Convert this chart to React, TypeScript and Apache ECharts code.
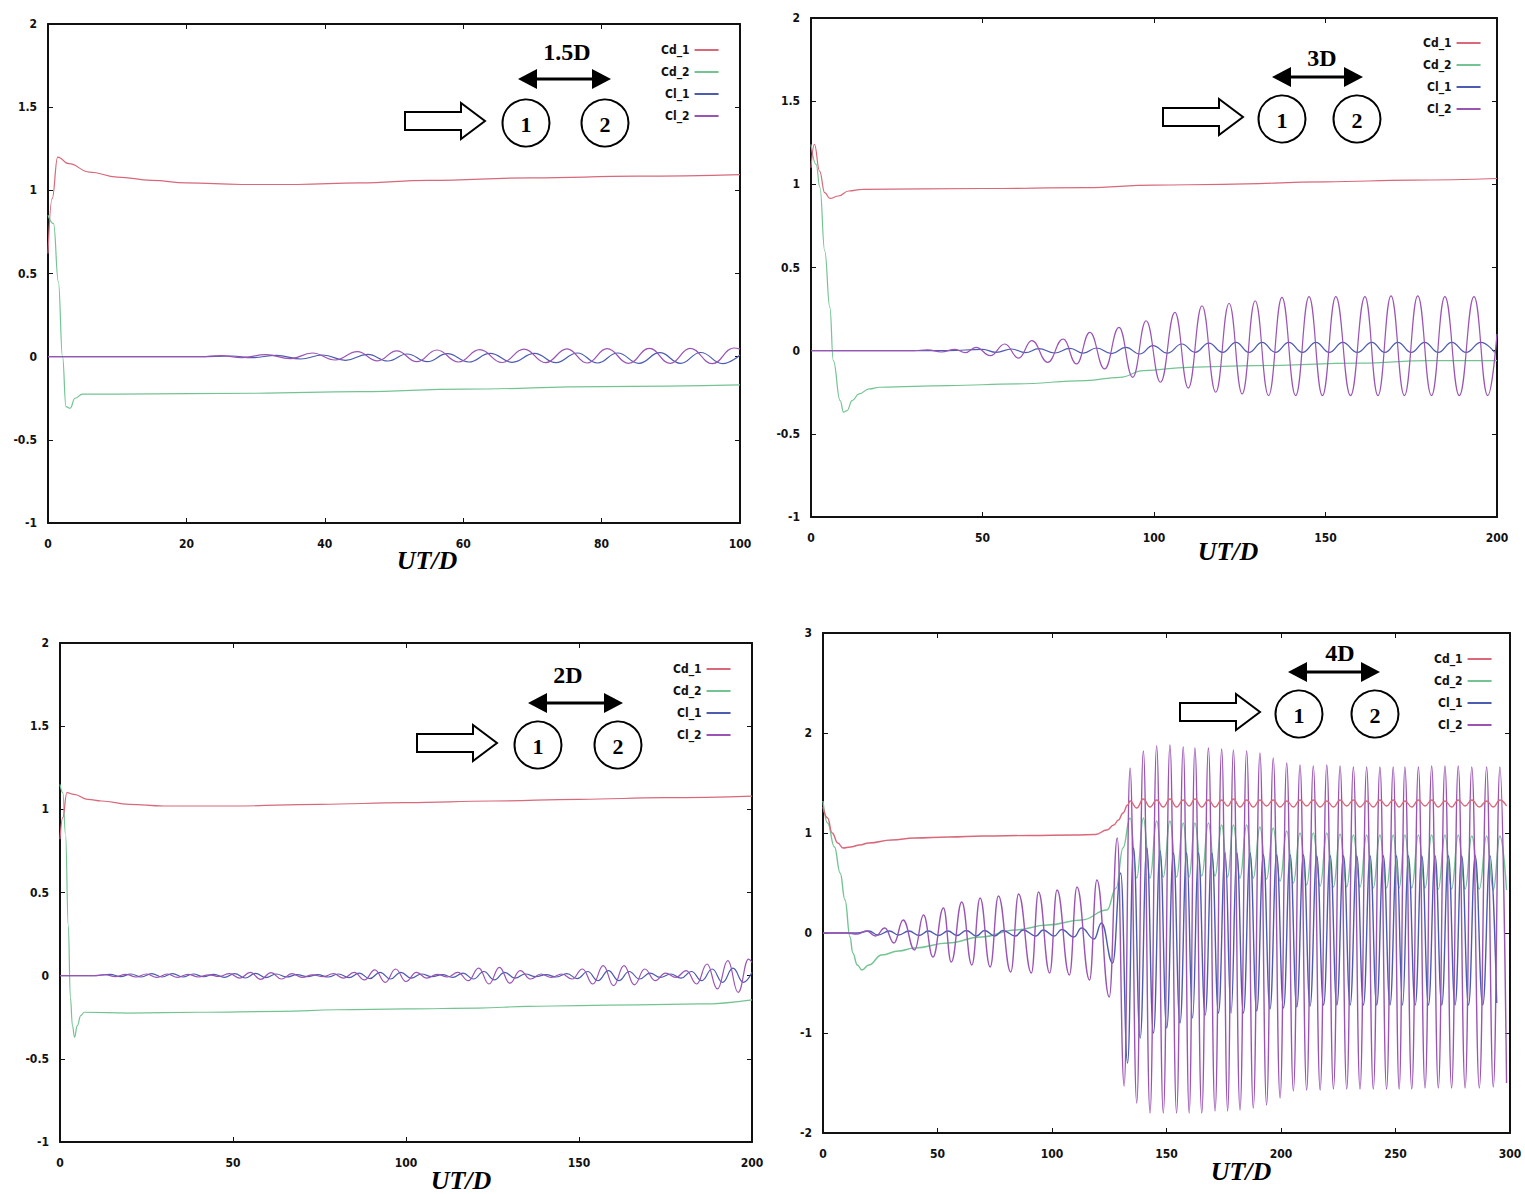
import React, { useEffect, useRef } from "react";
import * as echarts from "echarts";

type Pt = [number, number];

// ---------- labels / axes ----------
const SERIES_NAMES = ["Cd_1", "Cd_2", "Cl_1", "Cl_2"];
const PANEL_TITLES = ["1.5D", "3D", "2D", "4D"];
const X_TITLE = "UT/D";
const X_MAX = [100, 200, 200, 300];
const X_STEP = [20, 50, 50, 50];
const Y_MIN = [-1, -1, -1, -2];
const Y_MAX = [2, 2, 2, 3];
const Y_STEP = [0.5, 0.5, 0.5, 1];

// ---------- panel 1 : 1.5D ----------
const P1_CD1: Pt[] = [[0,0.62],[0.6,0.95],[1.4,1.2],[3,1.16],[6,1.11],[10,1.08],[15,1.06],[20,1.045],[28,1.035],[36,1.035],[45,1.045],[55,1.06],[70,1.075],[85,1.085],[100,1.095]];
const P1_CD2: Pt[] = [[0,0.85],[0.8,0.8],[1.5,0.45],[2.1,0.0],[2.6,-0.3],[3.2,-0.31],[3.9,-0.25],[5,-0.225],[10,-0.225],[30,-0.22],[45,-0.21],[60,-0.195],[80,-0.18],[100,-0.17]];
const P1_CL1: Pt[] = [[0,0],[22,0],[26.5,0.004],[29.5,-0.006],[33,0.008],[36.5,-0.014],[39.7,0.01],[43,-0.022],[46.2,0.014],[49.1,-0.026],[51.9,0.016],[54.8,-0.03],[57.7,0.018],[60.8,-0.032],[63.9,0.02],[67.1,-0.034],[70.3,0.02],[73.4,-0.036],[76.5,0.022],[79.4,-0.038],[82.3,0.022],[85.4,-0.04],[88.4,0.024],[91.4,-0.04],[94.3,0.025],[97.5,-0.042],[100,0.01]];
const P1_CL2: Pt[] = [[0,0],[22,0],[25,0.006],[28,-0.006],[31.5,0.012],[35,-0.012],[38.2,0.022],[41.5,-0.02],[44.7,0.03],[47.6,-0.025],[50.4,0.035],[53.3,-0.03],[56.2,0.04],[59.3,-0.032],[62.4,0.042],[65.6,-0.035],[68.8,0.045],[71.9,-0.036],[75,0.047],[77.9,-0.038],[80.8,0.048],[83.9,-0.04],[86.9,0.05],[89.9,-0.04],[92.8,0.05],[96,-0.042],[99.1,0.052],[100,0.045]];

// ---------- panel 2 : 3D ----------
const P2_CD1: Pt[] = [[0,1.1],[1,1.24],[2.5,1.08],[4,0.95],[5.5,0.915],[8,0.93],[11,0.96],[15,0.97],[50,0.975],[80,0.98],[100,0.995],[120,1.0],[150,1.015],[175,1.025],[200,1.035]];
const P2_CD2: Pt[] = [[0,1.24],[1.5,1.12],[2.6,0.98],[4,0.6],[5.5,0.26],[6.5,-0.06],[8.5,-0.3],[9.5,-0.37],[10.5,-0.36],[12,-0.3],[14,-0.26],[17,-0.23],[20,-0.22],[40,-0.21],[60,-0.2],[80,-0.18],[90,-0.16],[97,-0.12],[110,-0.1],[130,-0.09],[160,-0.075],[180,-0.06],[200,-0.06]];
const P2_CL1: Pt[] = [[0,0],[40,0],[50,0.008],[54,-0.01],[58.5,0.01],[62.5,-0.012],[66.4,0.012],[71,-0.014],[75.5,0.014],[79.4,-0.015],[83.3,0.016],[87.6,-0.018],[91.8,0.02],[95.8,-0.02],[99.7,0.03],[103.9,-0.015],[108.1,0.04],[112,-0.01],[116,0.045],[120,-0.01],[123.9,0.05],[127.7,-0.01],[131.5,0.05],[135.4,-0.01],[139.3,0.05],[143.3,-0.01],[147.2,0.05],[151.1,-0.01],[155,0.05],[159.3,-0.01],[163.5,0.05],[167.3,-0.01],[171.1,0.05],[175,-0.01],[178.9,0.05],[182.9,-0.01],[186.8,0.05],[191,-0.01],[195.3,0.05],[199.3,-0.01]];
const P2_CL2: Pt[] = [[0,0],[30,0],[34,0.005],[38,-0.008],[42,0.008],[45,-0.012],[48.1,0.02],[52.3,-0.03],[56.5,0.04],[60.5,-0.045],[64.4,0.06],[69,-0.07],[73.5,0.07],[77.4,-0.08],[81.3,0.11],[85.6,-0.11],[89.8,0.14],[93.8,-0.16],[97.7,0.18],[101.9,-0.19],[106.1,0.23],[110,-0.225],[114,0.27],[118,-0.25],[121.9,0.285],[125.7,-0.26],[129.5,0.3],[133.4,-0.27],[137.3,0.32],[141.3,-0.27],[145.2,0.325],[149.1,-0.27],[153,0.325],[157.3,-0.27],[161.5,0.325],[165.3,-0.27],[169.1,0.33],[173,-0.27],[176.9,0.33],[180.9,-0.27],[184.8,0.325],[189,-0.27],[193.3,0.325],[197.3,-0.27],[200,0.1]];

// ---------- panel 3 : 2D ----------
const P3_CD1: Pt[] = [[0,0.82],[0.8,0.95],[2,1.1],[4,1.09],[8,1.06],[12,1.05],[20,1.03],[30,1.02],[50,1.02],[75,1.03],[100,1.04],[125,1.05],[150,1.06],[175,1.07],[200,1.08]];
const P3_CD2: Pt[] = [[0,1.15],[0.8,1.1],[1.6,0.85],[2.4,0.3],[3,-0.13],[3.6,-0.3],[4.2,-0.37],[5,-0.3],[6,-0.24],[7,-0.22],[20,-0.225],[40,-0.22],[64,-0.215],[80,-0.205],[100,-0.2],[121,-0.195],[135,-0.185],[150,-0.18],[167,-0.175],[185,-0.17],[200,-0.145]];
const P3_CL1: Pt[] = [[0,0],[10,0],[14.5,0.008],[17.5,-0.006],[20.5,0.01],[23.5,-0.008],[26.5,0.012],[29.5,-0.008],[32.5,0.012],[35.5,-0.008],[38.5,0.01],[41.5,-0.006],[44.5,0.008],[47.5,-0.01],[50.5,0.012],[53.5,-0.014],[56.5,0.014],[59.5,-0.012],[62.5,0.01],[65.5,-0.008],[68.5,0.006],[71.5,-0.006],[74.5,0.006],[77.5,-0.008],[80.5,0.01],[83.5,-0.012],[86.5,0.015],[89.5,-0.018],[92.5,0.02],[95.5,-0.02],[98.5,0.02],[101.5,-0.015],[104.5,0.01],[107.5,-0.006],[110.5,0.006],[113.5,-0.01],[116.5,0.015],[119.5,-0.02],[122.5,0.025],[125.5,-0.025],[128.5,0.02],[131.5,-0.015],[134.5,0.01],[137.5,-0.006],[140.5,0.006],[143.5,-0.008],[146.5,0.012],[149.5,-0.018],[152.5,0.025],[155.5,-0.03],[158.5,0.03],[161.5,-0.03],[164.5,0.025],[167.5,-0.02],[170.5,0.015],[173.5,-0.01],[176.5,0.01],[179.5,-0.015],[182.5,0.025],[185.5,-0.03],[188.5,0.04],[191.5,-0.04],[194.5,0.045],[197.5,-0.04],[200,0.02]];
const P3_CL2: Pt[] = [[0,0],[10,0],[13,0.006],[16,-0.006],[19,0.008],[22,-0.008],[25,0.01],[28,-0.01],[31,0.01],[34,-0.01],[37,0.008],[40,-0.008],[43,0.005],[46,-0.005],[49,0.012],[52,-0.015],[55,0.02],[58,-0.022],[61,0.018],[64,-0.02],[67,0.012],[70,-0.01],[73,0.005],[76,-0.006],[79,0.012],[82,-0.015],[85,0.02],[88,-0.025],[91,0.035],[94,-0.04],[97,0.04],[100,-0.035],[103,0.02],[106,-0.015],[109,0.008],[112,-0.008],[115,0.02],[118,-0.03],[121,0.045],[124,-0.05],[127,0.05],[130,-0.045],[133,0.03],[136,-0.02],[139,0.01],[142,-0.01],[145,0.01],[148,-0.02],[151,0.04],[154,-0.05],[157,0.06],[160,-0.06],[163,0.06],[166,-0.055],[169,0.04],[172,-0.03],[175,0.015],[178,-0.01],[181,0.03],[184,-0.05],[187,0.07],[190,-0.08],[193,0.09],[196,-0.1],[199,0.1],[200,0.08]];

// ---------- panel 4 : 4D ----------
const P4_CD1_EARLY: Pt[] = [[0,1.26],[2,1.15],[4,1.0],[6.5,0.9],[8.7,0.85],[12,0.86],[16,0.88],[20,0.9],[30,0.93],[40,0.95],[55,0.96],[70,0.97],[90,0.975],[110,0.98],[119,0.985],[124,1.03],[127,1.08],[129,1.13],[131,1.2],[133,1.28]];
const P4_CD2_EARLY: Pt[] = [[0,1.32],[2,1.1],[5,0.86],[7.5,0.6],[9.6,0.33],[11.8,-0.04],[13,-0.2],[15,-0.32],[17,-0.37],[20,-0.32],[25.6,-0.22],[33,-0.18],[40,-0.15],[54.6,-0.1],[69,-0.04],[84,0.03],[98,0.08],[113,0.13],[124,0.23],[128,0.45],[131,0.85]];
const P4_CL1_EARLY: Pt[] = [[0,0],[15,0],[20,0.02],[24,-0.02],[29,0.02],[33,-0.02],[37.5,0.02],[42,-0.025],[46,0.02],[50.5,-0.025],[54.6,0.02],[58.5,-0.025],[62.6,0.025],[67,-0.03],[70.6,0.025],[75,-0.03],[78.6,0.025],[84,-0.03],[87.4,0.03],[93,-0.03],[96.1,0.03],[101,-0.03],[104.2,0.035],[109.6,-0.04],[112.9,0.05],[118.4,-0.06],[121.6,0.1],[126.5,-0.3],[130,0.6],[133,-1.3]];
const P4_CL2_EARLY: Pt[] = [[0,0],[10,0],[15,-0.01],[19,0.02],[23,-0.03],[27,0.05],[31,-0.1],[35,0.13],[40,-0.17],[43.9,0.18],[48,-0.24],[52.6,0.25],[56,-0.29],[60.6,0.31],[65,-0.32],[68.6,0.35],[73,-0.34],[76.6,0.37],[82,-0.39],[85.4,0.39],[91,-0.4],[94.1,0.41],[99,-0.4],[102.2,0.43],[107.6,-0.42],[110.9,0.46],[116.4,-0.47],[119.6,0.53],[125,-0.64],[128.5,0.95],[131.5,-1.53]];

// extremes of the saturated shedding regime (UT/D)
const P4_T: number[] = [134.1,137,139.9,142.8,145.7,148.6,151.5,154.4,157.3,159.9,162.4,165.4,168.3,171.2,174.1,176.7,179.2,182.1,185,187.9,190.8,193.7,196.6,199.6,202.5,205.4,208.3,211.2,214.1,217.1,220,222.9,225.8,228.7,231.6,234.5,237.4,240.3,243.2,246.1,249,251.6,254.1,257.1,260,262.9,265.8,268.7,271.6,274.5,277.4,280.4,283.3,286.6,289.8,292.7,295.6,298.5];
const P4_CL2_V: number[] = [1.65,-1.7,1.82,-1.8,1.87,-1.8,1.88,-1.8,1.86,-1.8,1.85,-1.8,1.85,-1.78,1.84,-1.78,1.83,-1.77,1.82,-1.75,1.8,-1.72,1.75,-1.65,1.7,-1.58,1.68,-1.57,1.67,-1.57,1.68,-1.56,1.67,-1.56,1.66,-1.56,1.66,-1.56,1.66,-1.56,1.66,-1.56,1.66,-1.56,1.66,-1.55,1.67,-1.55,1.67,-1.55,1.67,-1.55,1.66,-1.55,1.66,-1.54,1.66,-1.5];
const P4_CD1_V: number[] = [1.32,1.25,1.34,1.26,1.33,1.26,1.34,1.26,1.33,1.27,1.34,1.26,1.33,1.26,1.33,1.27,1.34,1.26,1.33,1.26,1.33,1.27,1.33,1.26,1.32,1.26,1.33,1.27,1.33,1.26,1.32,1.26,1.33,1.27,1.33,1.26,1.32,1.26,1.33,1.27,1.33,1.26,1.32,1.26,1.33,1.27,1.33,1.26,1.32,1.26,1.33,1.27,1.33,1.26,1.32,1.26,1.33,1.27];
const P4_CD2_V: number[] = [1.15,0.55,1.15,0.55,1.12,0.56,1.12,0.56,1.1,0.56,1.1,0.57,1.1,0.57,1.08,0.56,1.08,0.55,1.08,0.55,1.06,0.54,1.05,0.52,1.02,0.5,1.0,0.48,1.0,0.47,1.0,0.46,0.99,0.46,0.98,0.46,0.98,0.45,0.98,0.45,0.98,0.45,0.98,0.45,0.98,0.45,0.98,0.44,0.98,0.44,0.98,0.44,0.97,0.44,0.97,0.43,0.97,0.43];
const P4_T_CL1: number[] = [135.6,138.5,141.4,144.3,147.2,150.1,153,155.9,158.8,161.4,163.9,166.9,169.8,172.7,175.6,178.2,180.7,183.6,186.5,189.4,192.3,195.2,198.1,201.1,204,206.9,209.8,212.7,215.6,218.6,221.5,224.4,227.3,230.2,233.1,236,238.9,241.8,244.7,247.6,250.5,253.1,255.6,258.6,261.5,264.4,267.3,270.2,273.1,276,278.9,281.9,284.8,288.1,291.3,294.2,297.1,300];
const P4_CL1_V: number[] = [0.85,-1.05,0.85,-1.0,0.82,-0.95,0.8,-0.9,0.8,-0.85,0.8,-0.82,0.8,-0.8,0.8,-0.8,0.8,-0.8,0.8,-0.78,0.78,-0.76,0.78,-0.75,0.78,-0.74,0.78,-0.73,0.77,-0.72,0.77,-0.72,0.77,-0.72,0.77,-0.72,0.77,-0.72,0.77,-0.72,0.77,-0.72,0.77,-0.72,0.77,-0.72,0.77,-0.72,0.77,-0.72,0.77,-0.72,0.77,-0.72,0.77,-0.7];

// ---------- styling / layout (not data) ----------
const COLORS: Record<string, string> = { Cd_1: "#d8687a", Cd_2: "#74c493", Cl_1: "#4c5cb0", Cl_2: "#9a54b4" };
const DRAW_ORDER = ["Cd_2", "Cl_1", "Cl_2", "Cd_1"];
const GRIDS = [
  { left: 48, top: 24, width: 692, height: 499 },
  { left: 811, top: 18, width: 686, height: 499 },
  { left: 60, top: 643, width: 692, height: 499 },
  { left: 823, top: 633, width: 687, height: 500 },
];
const LEGEND_POS: Array<[number, number]> = [[656, 38], [1418, 31], [668, 657], [1429, 647]];
const XTITLE_POS: Array<[number, number]> = [[427, 560], [1228, 551], [461, 1180], [1241, 1171]];
const DIAGRAMS = [
  { x: 405, y: 121, c1: 121, c2: 200, a1: 113, a2: 206, ay: -42, lx: 162, ly: -69 },
  { x: 1163, y: 117, c1: 119, c2: 194, a1: 109, a2: 200, ay: -40, lx: 159, ly: -59 },
  { x: 417, y: 743, c1: 121, c2: 201, a1: 111, a2: 206, ay: -40, lx: 151, ly: -68 },
  { x: 1180, y: 712, c1: 119, c2: 195, a1: 108, a2: 200, ay: -40, lx: 160, ly: -59 },
];
const TICK_FONT = "'DejaVu Sans Condensed', 'Liberation Sans Narrow', 'DejaVu Sans', sans-serif";

const zip = (t: number[], v: number[]): Pt[] => t.map((x, i) => [x, v[i]] as Pt);

const PANEL_DATA: Record<string, Pt[]>[] = [
  { Cd_1: P1_CD1, Cd_2: P1_CD2, Cl_1: P1_CL1, Cl_2: P1_CL2 },
  { Cd_1: P2_CD1, Cd_2: P2_CD2, Cl_1: P2_CL1, Cl_2: P2_CL2 },
  { Cd_1: P3_CD1, Cd_2: P3_CD2, Cl_1: P3_CL1, Cl_2: P3_CL2 },
  {
    Cd_1: P4_CD1_EARLY.concat(zip(P4_T, P4_CD1_V)),
    Cd_2: P4_CD2_EARLY.concat(zip(P4_T, P4_CD2_V)),
    Cl_1: P4_CL1_EARLY.concat(zip(P4_T_CL1, P4_CL1_V)),
    Cl_2: P4_CL2_EARLY.concat(zip(P4_T, P4_CL2_V)),
  },
];

function diagram(i: number) {
  const d = DIAGRAMS[i];
  const stroke = { stroke: "#000", lineWidth: 2, fill: "#fff" };
  const txt = (x: number, y: number, text: string, size: number) => ({
    type: "text", x, y,
    style: { text, font: `bold ${size}px 'Liberation Serif', 'DejaVu Serif', serif`, fill: "#000",
      align: "center", verticalAlign: "middle", textAlign: "center", textVerticalAlign: "middle" },
  });
  return {
    type: "group", x: d.x, y: d.y,
    children: [
      { type: "polygon", shape: { points: [[0, -9], [56, -9], [56, -18], [80, 0], [56, 18], [56, 9], [0, 9]] }, style: stroke },
      { type: "circle", shape: { cx: d.c1, cy: 2, r: 23.5 }, style: stroke },
      { type: "circle", shape: { cx: d.c2, cy: 2, r: 23.5 }, style: stroke },
      txt(d.c1, 3, "1", 22),
      txt(d.c2, 3, "2", 22),
      { type: "line", shape: { x1: d.a1 + 14, y1: d.ay, x2: d.a2 - 14, y2: d.ay }, style: { stroke: "#000", lineWidth: 3 } },
      { type: "polygon", shape: { points: [[d.a1, d.ay], [d.a1 + 19, d.ay - 10], [d.a1 + 19, d.ay + 10]] }, style: { fill: "#000" } },
      { type: "polygon", shape: { points: [[d.a2, d.ay], [d.a2 - 19, d.ay - 10], [d.a2 - 19, d.ay + 10]] }, style: { fill: "#000" } },
      txt(d.lx, d.ly, PANEL_TITLES[i], 24),
    ],
  };
}

function buildOption() {
  const idx = [0, 1, 2, 3];
  const labelStyle = { fontFamily: TICK_FONT, fontWeight: "bold", fontSize: 12, color: "#111" };
  const xAxis: any[] = [];
  const yAxis: any[] = [];
  idx.forEach((i) => {
    xAxis.push({
      type: "value", gridIndex: i, min: 0, max: X_MAX[i], interval: X_STEP[i], position: "bottom",
      axisLine: { show: true, onZero: false, lineStyle: { color: "#111", width: 2 } },
      axisTick: { inside: true, length: 5, lineStyle: { color: "#111" } },
      axisLabel: { ...labelStyle, margin: 15 }, splitLine: { show: false },
    });
    yAxis.push({
      type: "value", gridIndex: i, min: Y_MIN[i], max: Y_MAX[i], interval: Y_STEP[i], position: "left",
      axisLine: { show: true, onZero: false, lineStyle: { color: "#111", width: 2 } },
      axisTick: { inside: true, length: 5, lineStyle: { color: "#111" } },
      axisLabel: { ...labelStyle, margin: 11 }, splitLine: { show: false },
    });
  });
  idx.forEach((i) => {
    xAxis.push({
      type: "value", gridIndex: i, min: 0, max: X_MAX[i], interval: X_STEP[i], position: "top",
      axisLine: { show: true, onZero: false, lineStyle: { color: "#111", width: 2 } },
      axisTick: { inside: true, length: 5, lineStyle: { color: "#111" } },
      axisLabel: { show: false }, splitLine: { show: false },
    });
    yAxis.push({
      type: "value", gridIndex: i, min: Y_MIN[i], max: Y_MAX[i], interval: Y_STEP[i], position: "right",
      axisLine: { show: true, onZero: false, lineStyle: { color: "#111", width: 2 } },
      axisTick: { inside: true, length: 5, lineStyle: { color: "#111" } },
      axisLabel: { show: false }, splitLine: { show: false },
    });
  });

  const series: any[] = [];
  idx.forEach((i) => {
    DRAW_ORDER.forEach((name) => {
      series.push({
        name, type: "line", xAxisIndex: i, yAxisIndex: i,
        data: PANEL_DATA[i][name],
        showSymbol: false, symbol: "none",
        smooth: 0.45, smoothMonotone: "x",
        color: COLORS[name],
        lineStyle: { width: i === 3 ? 1.4 : 1.2, color: COLORS[name] },
        clip: true, silent: true,
      });
    });
  });

  const legend = idx.map((i) => ({
    left: LEGEND_POS[i][0], top: LEGEND_POS[i][1], orient: "vertical", align: "right",
    data: SERIES_NAMES, icon: "rect", itemWidth: 24, itemHeight: 2, itemGap: 8, selectedMode: false,
    textStyle: { fontFamily: TICK_FONT, fontWeight: "bold", fontSize: 12, color: "#111", lineHeight: 14 },
  }));

  const graphic: any[] = [];
  idx.forEach((i) => {
    graphic.push(diagram(i));
    graphic.push({
      type: "text", x: XTITLE_POS[i][0], y: XTITLE_POS[i][1],
      style: { text: X_TITLE, font: "italic bold 26px 'Liberation Serif', 'DejaVu Serif', serif", fill: "#000",
        align: "center", verticalAlign: "middle", textAlign: "center", textVerticalAlign: "middle" },
    });
  });

  return {
    animation: false,
    backgroundColor: "#fff",
    grid: GRIDS.map((g) => ({ ...g, show: true, borderColor: "#111", borderWidth: 1, backgroundColor: "transparent" })),
    xAxis, yAxis, series, legend, graphic,
  };
}

export default function App() {
  const ref = useRef<HTMLDivElement>(null);
  useEffect(() => {
    if (!ref.current) return;
    const chart = echarts.init(ref.current, undefined, { renderer: "svg" });
    chart.setOption(buildOption() as any);
    return () => chart.dispose();
  }, []);
  return (
    <div
      ref={ref}
      style={{ position: "fixed", left: 0, top: 0, width: 1525, height: 1194, background: "#fff" }}
    />
  );
}
